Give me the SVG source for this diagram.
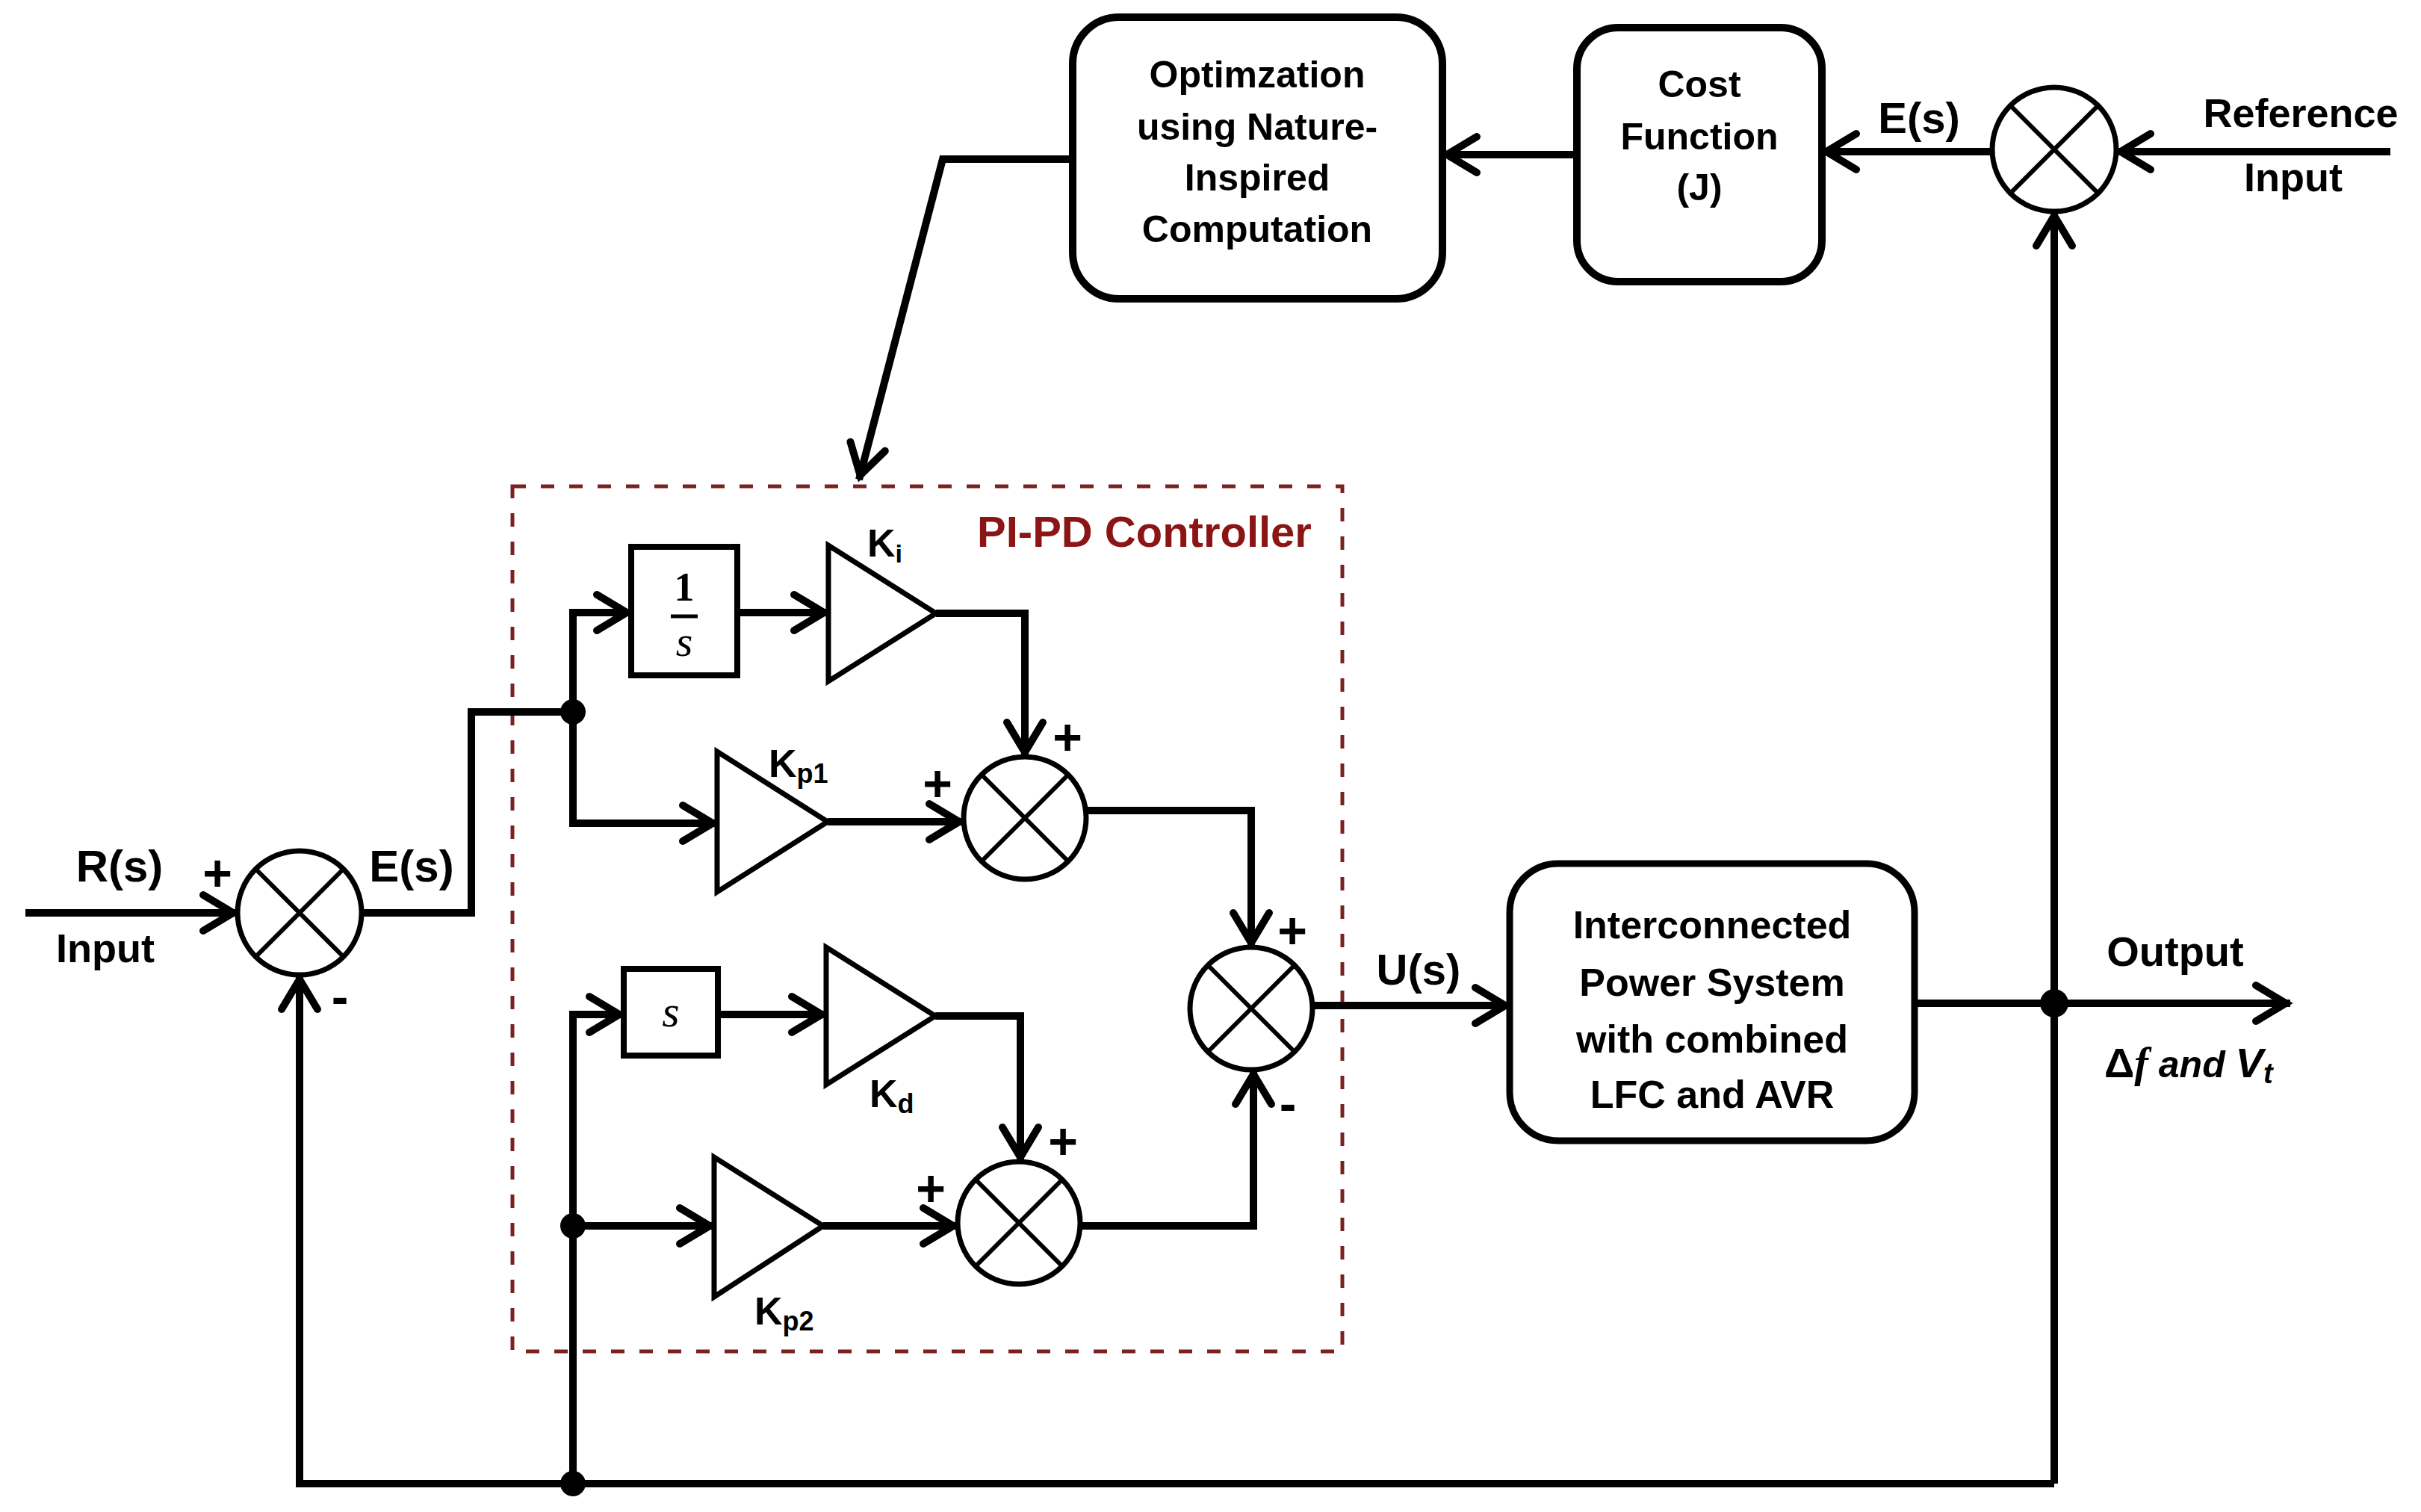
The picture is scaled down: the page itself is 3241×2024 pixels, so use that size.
<svg xmlns="http://www.w3.org/2000/svg" width="3241" height="2024" viewBox="0 0 3241 2024">
<defs>
<style>
.t{font-family:"Liberation Sans",Arial,sans-serif;font-weight:bold;fill:#000}
.m{text-anchor:middle}
.box{fill:#fff;stroke:#000;stroke-width:10}
.blk{fill:#fff;stroke:#000;stroke-width:8}
.tri{fill:#fff;stroke:#000;stroke-width:7;stroke-linejoin:miter}
.sum circle{fill:#fff;stroke:#000;stroke-width:7}
.sum path{fill:none;stroke:#000;stroke-width:6}
.conn path{fill:none;stroke:#000;stroke-width:10;stroke-linejoin:miter}
.dot{fill:#000}
.sign{font-family:"Liberation Sans",Arial,sans-serif;font-weight:bold;font-size:68px;text-anchor:middle;dominant-baseline:central}
.serif{font-family:"Liberation Serif","Times New Roman",serif}
</style>
<marker id="arr" markerUnits="userSpaceOnUse" markerWidth="80" markerHeight="80" viewBox="-50 -40 60 80" refX="6" refY="0" orient="auto" overflow="visible">
<path d="M-40,-24 L0,0 L-40,24" fill="none" stroke="#000" stroke-width="10" stroke-linecap="round" stroke-linejoin="miter"/>
</marker>
</defs>
<rect width="3241" height="2024" fill="#fff"/>

<g id="controller-frame">
<rect x="686" y="651" width="1111" height="1158" fill="none" stroke="#7a2222" stroke-width="5" stroke-dasharray="18 20"/>
<text class="t m" x="1532" y="732" font-size="58" style="fill:#8b1515">PI-PD Controller</text>
</g>

<g class="conn" id="connectors">
<path d="M34,1222 H318" marker-end="url(#arr)"/>
<path d="M484,1222 H631 V953 H767"/>
<path d="M767,953 V820 H845" marker-end="url(#arr)"/>
<path d="M767,953 V1102 H960" marker-end="url(#arr)"/>
<path d="M987,820 H1109" marker-end="url(#arr)"/>
<path d="M1253,821 H1372 V1013" marker-end="url(#arr)"/>
<path d="M1108,1100 H1290" marker-end="url(#arr)"/>
<path d="M1454,1085 H1675 V1268" marker-end="url(#arr)"/>
<path d="M767,1986 V1358 H835" marker-end="url(#arr)"/>
<path d="M961,1358 H1106" marker-end="url(#arr)"/>
<path d="M1252,1360 H1366 V1555" marker-end="url(#arr)"/>
<path d="M767,1641 H956" marker-end="url(#arr)"/>
<path d="M1102,1641 H1282" marker-end="url(#arr)"/>
<path d="M1446,1641 H1678 V1432" marker-end="url(#arr)"/>
<path d="M1757,1346 H2021" marker-end="url(#arr)"/>
<path d="M2563,1343 H3066" marker-end="url(#arr)"/>
<path d="M2750,1986 V283" marker-end="url(#arr)"/>
<path d="M2750,1986 H401 V1305" marker-end="url(#arr)"/>
<path d="M3200,203 H2833" marker-end="url(#arr)"/>
<path d="M2667,203 H2439" marker-end="url(#arr)"/>
<path d="M2111,207 H1931" marker-end="url(#arr)"/>
<path d="M1436,213 H1262 L1150,642" marker-end="url(#arr)"/>
<circle class="dot" cx="767" cy="953" r="17"/>
<circle class="dot" cx="767" cy="1641" r="17"/>
<circle class="dot" cx="767" cy="1986" r="17"/>
<circle class="dot" cx="2750" cy="1343" r="19"/>
</g>

<g id="opt">
<rect class="box" x="1436" y="23" width="495" height="377" rx="62"/>
<text class="t m" font-size="50" x="1683" y="117">Optimzation</text>
<text class="t m" font-size="50" x="1683" y="187">using Nature-</text>
<text class="t m" font-size="50" x="1683" y="255">Inspired</text>
<text class="t m" font-size="50" x="1683" y="324">Computation</text>
</g>

<g id="cost">
<rect class="box" x="2111" y="37" width="328" height="340" rx="55"/>
<text class="t m" font-size="50" x="2275" y="130">Cost</text>
<text class="t m" font-size="50" x="2275" y="200">Function</text>
<text class="t m" font-size="50" x="2275" y="268">(J)</text>
</g>

<g id="sumT" class="sum">
<circle cx="2750" cy="200" r="83"/>
<path d="M2691,141 L2809,259 M2809,141 L2691,259"/>
</g>

<g id="labels-top">
<text class="t m" font-size="58" x="2569" y="178">E(s)</text>
<text class="t m" font-size="54" x="3080" y="170">Reference</text>
<text class="t m" font-size="54" x="3070" y="256">Input</text>
</g>

<g id="input-labels">
<text class="t m" font-size="60" x="160" y="1180">R(s)</text>
<text class="t m" font-size="54" x="141" y="1288">Input</text>
<text class="sign" x="291" y="1168">+</text>
<text class="sign" x="455" y="1334">-</text>
<text class="t m" font-size="60" x="551" y="1180">E(s)</text>
</g>

<g id="sumL" class="sum">
<circle cx="401" cy="1222" r="83"/>
<path d="M342,1163 L460,1281 M460,1163 L342,1281"/>
</g>

<g id="integrator">
<rect class="blk" x="845" y="732" width="142" height="172"/>
<text class="serif m" x="916" y="804" font-size="54" font-weight="bold">1</text>
<path d="M898,825 H934" stroke="#000" stroke-width="5"/>
<text class="serif m" x="916" y="878" font-size="58" font-style="italic">s</text>
</g>

<g id="Ki">
<polygon class="tri" points="1109,730 1109,912 1253,821"/>
<text class="t" font-size="52" x="1161" y="745">K<tspan font-size="34" dy="8">i</tspan></text>
</g>

<g id="Kp1">
<polygon class="tri" points="960,1006 960,1194 1108,1100"/>
<text class="t" font-size="52" x="1029" y="1040">K<tspan font-size="36" dy="8">p1</tspan></text>
</g>

<g id="sum1" class="sum">
<circle cx="1372" cy="1095" r="82"/>
<path d="M1314,1037 L1430,1153 M1430,1037 L1314,1153"/>
<text class="sign" x="1429" y="986">+</text>
<text class="sign" x="1255" y="1048">+</text>
</g>

<g id="diff">
<rect class="blk" x="835" y="1297" width="126" height="116"/>
<text class="serif m" x="898" y="1374" font-size="60" font-style="italic">s</text>
</g>

<g id="Kd">
<polygon class="tri" points="1106,1268 1106,1452 1252,1360"/>
<text class="t" font-size="52" x="1164" y="1482">K<tspan font-size="36" dy="8">d</tspan></text>
</g>

<g id="Kp2">
<polygon class="tri" points="956,1549 956,1736 1102,1641"/>
<text class="t" font-size="52" x="1010" y="1773">K<tspan font-size="36" dy="8">p2</tspan></text>
</g>

<g id="sum2" class="sum">
<circle cx="1364" cy="1637" r="82"/>
<path d="M1306,1579 L1422,1695 M1422,1579 L1306,1695"/>
<text class="sign" x="1423" y="1527">+</text>
<text class="sign" x="1246" y="1590">+</text>
</g>

<g id="sum3" class="sum">
<circle cx="1675" cy="1350" r="82"/>
<path d="M1617,1292 L1733,1408 M1733,1292 L1617,1408"/>
<text class="sign" x="1730" y="1245">+</text>
<text class="sign" x="1724" y="1477">-</text>
</g>

<g id="us-label">
<text class="t m" font-size="58" x="1899" y="1318">U(s)</text>
</g>

<g id="plant">
<rect class="box" x="2021" y="1156" width="542" height="371" rx="65" style="stroke-width:9"/>
<text class="t m" font-size="52" x="2292" y="1256">Interconnected</text>
<text class="t m" font-size="52" x="2292" y="1333">Power System</text>
<text class="t m" font-size="52" x="2292" y="1409">with combined</text>
<text class="t m" font-size="52" x="2292" y="1483">LFC and AVR</text>
</g>

<g id="output-labels">
<text class="t m" font-size="56" x="2912" y="1293">Output</text>
<text x="2817" y="1442" font-size="56" style="font-family:'Liberation Sans',Arial,sans-serif;font-weight:bold">Δ<tspan class="serif" font-style="italic" font-weight="bold">f</tspan><tspan font-style="italic" font-size="50"> and </tspan><tspan font-style="italic">V</tspan><tspan font-style="italic" font-size="38" dy="8">t</tspan></text>
</g>
</svg>
